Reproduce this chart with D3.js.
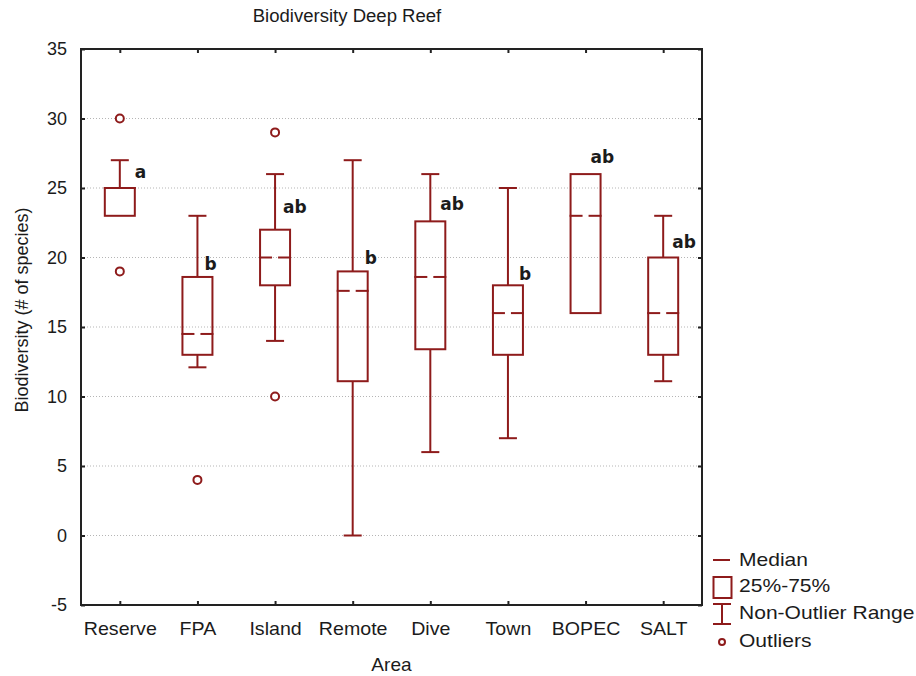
<!DOCTYPE html>
<html>
<head>
<meta charset="utf-8">
<script src="https://d3js.org/d3.v7.min.js"></script>
<style>
  body { margin: 0; background: #fff; }
  svg text { font-family: "Liberation Sans", Arial, sans-serif; fill: #1b1b1b; }
</style>
</head>
<body>
<svg class="target" width="916" height="676"></svg>
<script>

// data
categories = ["Reserve", "FPA", "Island", "Remote", "Dive", "Town", "BOPEC", "SALT"]
whiskerLow  = [23, 12.1, 14, 0, 6, 7, 16, 11.1]
q1          = [23, 13, 18, 11.1, 13.4, 13, 16, 13]
medians     = [25, 14.5, 20, 17.6, 18.6, 16, 23, 16]
q3          = [25, 18.6, 22, 19, 22.6, 18, 26, 20]
whiskerHigh = [27, 23, 26, 27, 26, 25, 26, 23]
outliers    = [[30, 19], [4], [29, 10], [], [], [], [], []]
groupLetters = ["a", "b", "ab", "b", "ab", "b", "ab", "ab"]
letterAt     = [25.7, 19.1, 23.2, 19.5, 23.4, 18.4, 26.8, 20.7]  // baseline, in y units
yTicks = [-5, 0, 5, 10, 15, 20, 25, 30, 35]
legendLabels = ["Median", "25%-75%", "Non-Outlier Range", "Outliers"]

const red = "#8e1b1b"
const frame = { left: 81, right: 702, top: 49, bottom: 605 }

const svg = d3.select(".target")

const x = d3.scalePoint()
  .domain(categories)
  .range([frame.left, frame.right])
  .padding(0.5)

const y = d3.scaleLinear()
  .domain([-5, 35])
  .range([frame.bottom, frame.top])

// dotted gridlines
svg.append("g")
  .selectAll("line")
  .data(yTicks.slice(1, -1))
  .join("line")
    .attr("x1", frame.left).attr("x2", frame.right)
    .attr("y1", d => y(d)).attr("y2", d => y(d))
    .attr("stroke", "#b5b5b5")
    .attr("stroke-dasharray", "1,2")

// axes, ticks inward on all four sides
const tick = 4
svg.append("g").attr("transform", `translate(${frame.left},0)`)
  .call(d3.axisLeft(y).tickValues(yTicks).tickSize(-tick).tickPadding(14).tickFormat(d => String(d)))
svg.append("g").attr("transform", `translate(${frame.right},0)`)
  .call(d3.axisRight(y).tickValues(yTicks).tickSize(-tick).tickFormat(""))
const xAxis = svg.append("g").attr("transform", `translate(0,${frame.bottom})`)
  .call(d3.axisBottom(x).tickSize(-tick).tickPadding(17))
svg.append("g").attr("transform", `translate(0,${frame.top})`)
  .call(d3.axisTop(x).tickSize(-tick).tickFormat(""))

svg.selectAll(".domain").remove()
svg.selectAll(".tick line").attr("stroke", "#222").attr("stroke-width", 2)
svg.selectAll(".tick text")
  .style("font-size", "18px")
  .style("font-family", '"Liberation Sans", Arial, sans-serif')
  .attr("fill", "#1b1b1b")
// the source font runs a little wider than Arial
xAxis.selectAll(".tick text")
  .attr("transform", "scale(1.09,1)")

svg.append("rect")
  .attr("x", frame.left).attr("y", frame.top)
  .attr("width", frame.right - frame.left)
  .attr("height", frame.bottom - frame.top)
  .attr("fill", "none")
  .attr("stroke", "#222")
  .attr("stroke-width", 2)

// boxes
const boxW = 30, capW = 18, gap = 3
const boxes = categories.map((c, i) => ({
  c, lo: whiskerLow[i], q1: q1[i], med: medians[i], q3: q3[i], hi: whiskerHigh[i], out: outliers[i]
}))

const g = svg.append("g")
  .selectAll("g")
  .data(boxes)
  .join("g")
    .attr("transform", d => `translate(${x(d.c)},0)`)
    .attr("stroke", red)
    .attr("stroke-width", 2)
    .attr("fill", "none")

g.filter(d => d.hi > d.q3).append("line")
  .attr("y1", d => y(d.q3)).attr("y2", d => y(d.hi))
g.filter(d => d.hi > d.q3).append("line")
  .attr("x1", -capW / 2).attr("x2", capW / 2)
  .attr("y1", d => y(d.hi)).attr("y2", d => y(d.hi))
g.filter(d => d.lo < d.q1).append("line")
  .attr("y1", d => y(d.q1)).attr("y2", d => y(d.lo))
g.filter(d => d.lo < d.q1).append("line")
  .attr("x1", -capW / 2).attr("x2", capW / 2)
  .attr("y1", d => y(d.lo)).attr("y2", d => y(d.lo))

g.append("rect")
  .attr("x", -boxW / 2).attr("width", boxW)
  .attr("y", d => y(d.q3))
  .attr("height", d => y(d.q1) - y(d.q3))

// median drawn as two dashes with a gap in the middle
g.append("line")
  .attr("x1", -boxW / 2 - 1).attr("x2", -gap)
  .attr("y1", d => y(d.med)).attr("y2", d => y(d.med))
g.append("line")
  .attr("x1", gap).attr("x2", boxW / 2 + 1)
  .attr("y1", d => y(d.med)).attr("y2", d => y(d.med))

g.selectAll("circle")
  .data(d => d.out)
  .join("circle")
    .attr("cy", d => y(d))
    .attr("r", 4)
    .attr("fill", "#fff")

// group letters
const letterNudge = [15, 7, 8, 12, 10, 11, 5, 9]
svg.append("g")
  .selectAll("text")
  .data(categories)
  .join("text")
    .attr("x", (d, i) => x(d) + letterNudge[i])
    .attr("y", (d, i) => y(letterAt[i]))
    .text((d, i) => groupLetters[i])
    .style("font-family", '"DejaVu Sans", sans-serif')
    .style("font-weight", "bold")
    .style("font-size", "17px")
    .attr("fill", "#141428")

// titles
svg.append("text")
  .attr("transform", "translate(347,22) scale(1.03,1)")
  .attr("text-anchor", "middle")
  .style("font-size", "18px")
  .text("Biodiversity Deep Reef")

svg.append("text")
  .attr("transform", `translate(${(frame.left + frame.right) / 2},671) scale(1.06,1)`)
  .attr("text-anchor", "middle")
  .style("font-size", "18px")
  .text("Area")

svg.append("text")
  .attr("transform", "translate(28,310) rotate(-90)")
  .attr("text-anchor", "middle")
  .style("font-size", "18px")
  .text("Biodiversity (# of species)")

// legend
const legend = svg.append("g").attr("transform", "translate(713,0)")
legend.append("line")
  .attr("x1", 0).attr("x2", 17).attr("y1", 560).attr("y2", 560)
  .attr("stroke", red).attr("stroke-width", 2)
legend.append("rect")
  .attr("x", 0.5).attr("y", 577).attr("width", 18).attr("height", 21)
  .attr("fill", "none").attr("stroke", red).attr("stroke-width", 2)
legend.append("path")
  .attr("d", "M0,604H18M9,604V624M0,624H18")
  .attr("fill", "none").attr("stroke", red).attr("stroke-width", 2)
legend.append("circle")
  .attr("cx", 9).attr("cy", 642).attr("r", 3)
  .attr("fill", "#fff").attr("stroke", red).attr("stroke-width", 2)

legend.selectAll("text")
  .data(legendLabels)
  .join("text")
    .attr("transform", (d, i) => `translate(26,${[566, 592, 619, 647][i]}) scale(1.17,1)`)
    .style("font-size", "18px")
    .text(d => d)

</script>
</body>
</html>
